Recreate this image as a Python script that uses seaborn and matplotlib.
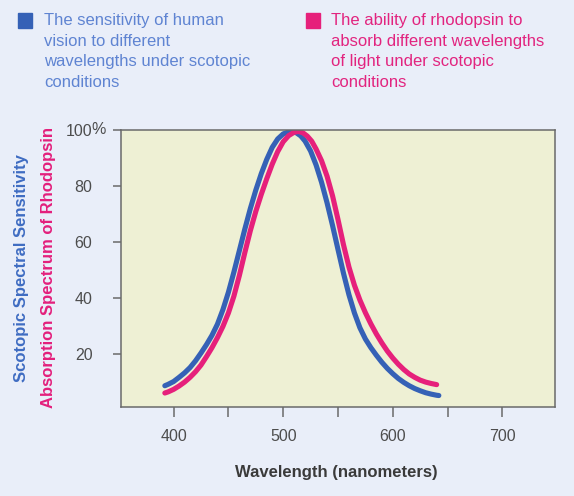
import matplotlib
matplotlib.use("Agg")
import matplotlib.pyplot as plt
import seaborn as sns
from matplotlib.patches import Rectangle

# ---- data ----
blue_wavelength = [392, 395, 400, 405, 410, 415, 420, 425, 430, 435, 440, 445, 450, 455,
                   460, 465, 470, 475, 480, 485, 490, 495, 500, 504, 508, 512, 516, 520,
                   525, 530, 535, 540, 545, 550, 555, 560, 565, 570, 575, 580, 585, 590,
                   595, 600, 605, 610, 615, 620, 625, 630, 635, 640, 642]
blue_sensitivity = [8.6, 9.1, 10.1, 11.6, 13.2, 15.1, 17.5, 20.3, 23.3, 26.6, 30.6, 35.8, 42.0, 49.2,
                    56.9, 64.6, 71.9, 78.5, 84.4, 89.5, 93.8, 96.8, 98.6, 99.2, 99.4, 99.0, 97.9, 96.0,
                    92.5, 87.5, 81.3, 74.0, 65.9, 57.3, 48.8, 41.1, 34.6, 29.3, 25.3, 22.2, 19.5, 17.0,
                    14.8, 12.9, 11.2, 9.8, 8.6, 7.6, 6.8, 6.1, 5.6, 5.2, 5.1]

pink_wavelength = [392, 395, 400, 405, 410, 415, 420, 425, 430, 435, 440, 445, 450, 455,
                   460, 465, 470, 475, 480, 485, 490, 495, 500, 505, 510, 514, 518, 522,
                   526, 530, 535, 540, 545, 550, 555, 560, 565, 570, 575, 580, 585, 590,
                   595, 600, 605, 610, 615, 620, 625, 630, 635, 640]
pink_absorption = [6.0, 6.4, 7.3, 8.5, 9.9, 11.6, 13.6, 16.0, 19.0, 22.2, 25.8, 29.8, 34.6, 40.6,
                   48.0, 56.2, 64.0, 70.9, 77.0, 82.6, 87.8, 92.3, 95.8, 98.0, 99.2, 99.5, 99.0, 97.8,
                   96.0, 93.2, 89.0, 83.5, 76.5, 68.0, 59.0, 51.0, 44.5, 39.2, 34.7, 30.7, 27.1, 23.9,
                   21.0, 18.5, 16.3, 14.4, 12.8, 11.6, 10.6, 9.9, 9.4, 9.0]

x_ticks = [400, 450, 500, 550, 600, 650, 700]
x_tick_labels = ["400", "", "500", "", "600", "", "700"]
y_ticks = [20, 40, 60, 80, 100]
y_tick_labels = ["20", "40", "60", "80", "100"]

legend_blue = "The sensitivity of human\nvision to different\nwavelengths under scotopic\nconditions"
legend_pink = "The ability of rhodopsin to\nabsorb different wavelengths\nof light under scotopic\nconditions"
ylabel_blue = "Scotopic Spectral Sensitivity"
ylabel_pink = "Absorption Spectrum of Rhodopsin"
xlabel = "Wavelength (nanometers)"

# ---- style ----
sns.set_style("white")
plt.rcParams['font.family'] = ['Liberation Sans', 'DejaVu Sans']

FIG_BG = "#e9eef9"
AX_BG = "#eef0d4"
BLUE = "#3561b6"
PINK = "#e6207b"
BLUE_TXT = "#5f84d2"
PINK_TXT = "#e2247f"
BLUE_LAB = "#3f6cc2"
PINK_LAB = "#e31f7c"
TICK_C = "#4d4d4d"
SPINE_C = "#6a6a6a"

W, H = 574, 496
fig = plt.figure(figsize=(W / 100, H / 100), dpi=100, facecolor=FIG_BG)
ax = fig.add_axes([121 / W, 1 - 407 / H, (555 - 121) / W, (407 - 130) / H])
ax.set_facecolor(AX_BG)

sns.lineplot(x=blue_wavelength, y=blue_sensitivity, color=BLUE, lw=3.7,
             solid_capstyle='round', solid_joinstyle='round', ax=ax)
sns.lineplot(x=pink_wavelength, y=pink_absorption, color=PINK, lw=3.7,
             solid_capstyle='round', solid_joinstyle='round', ax=ax)

ax.set_xlim(352, 748)
ax.set_ylim(1, 100)

ax.set_xticks(x_ticks)
ax.set_xticklabels(x_tick_labels)
ax.set_yticks(y_ticks)
ax.set_yticklabels(y_tick_labels)
ax.tick_params(axis='x', bottom=True, direction='out', length=7.2, width=1.1, color=SPINE_C,
               pad=8.6, labelsize=11.5, labelcolor=TICK_C)
ax.tick_params(axis='y', left=True, direction='out', length=5.6, width=1.1, color=SPINE_C,
               pad=15, labelsize=11.5, labelcolor=TICK_C)
ax.annotate("%", xy=(0, 1), xycoords='axes fraction', xytext=(-21, 0),
            textcoords='offset points', ha='left', va='center',
            fontsize=11.5, color=TICK_C)

for s in ax.spines.values():
    s.set_visible(True)
    s.set_color(SPINE_C)
    s.set_linewidth(1.1)

ax.set_xlabel("")
ax.set_ylabel("")
fig.text(336 / W, 1 - 473 / H, xlabel, ha='center', va='center',
         fontsize=12, fontweight='bold', color="#3a3a3a")

fig.text(22 / W, 1 - 268 / H, ylabel_blue, rotation=90, ha='center', va='center',
         fontsize=12, fontweight='bold', color=BLUE_LAB)
fig.text(48 / W, 1 - 268 / H, ylabel_pink, rotation=90, ha='center', va='center',
         fontsize=12, fontweight='bold', color=PINK_LAB)

# legend blocks
fig.patches.append(Rectangle((17.6 / W, 1 - 27.5 / H), 14.5 / W, 14.5 / H,
                             transform=fig.transFigure, color=BLUE, zorder=5))
fig.patches.append(Rectangle((305.6 / W, 1 - 27.5 / H), 14.5 / W, 14.5 / H,
                             transform=fig.transFigure, color=PINK, zorder=5))
fig.text(44 / W, 1 - 13.5 / H, legend_blue, ha='left', va='top', fontsize=12,
         color=BLUE_TXT, linespacing=1.45)
fig.text(331 / W, 1 - 13.5 / H, legend_pink, ha='left', va='top', fontsize=12,
         color=PINK_TXT, linespacing=1.45)

fig.savefig("out.png", dpi=100, facecolor=FIG_BG)
